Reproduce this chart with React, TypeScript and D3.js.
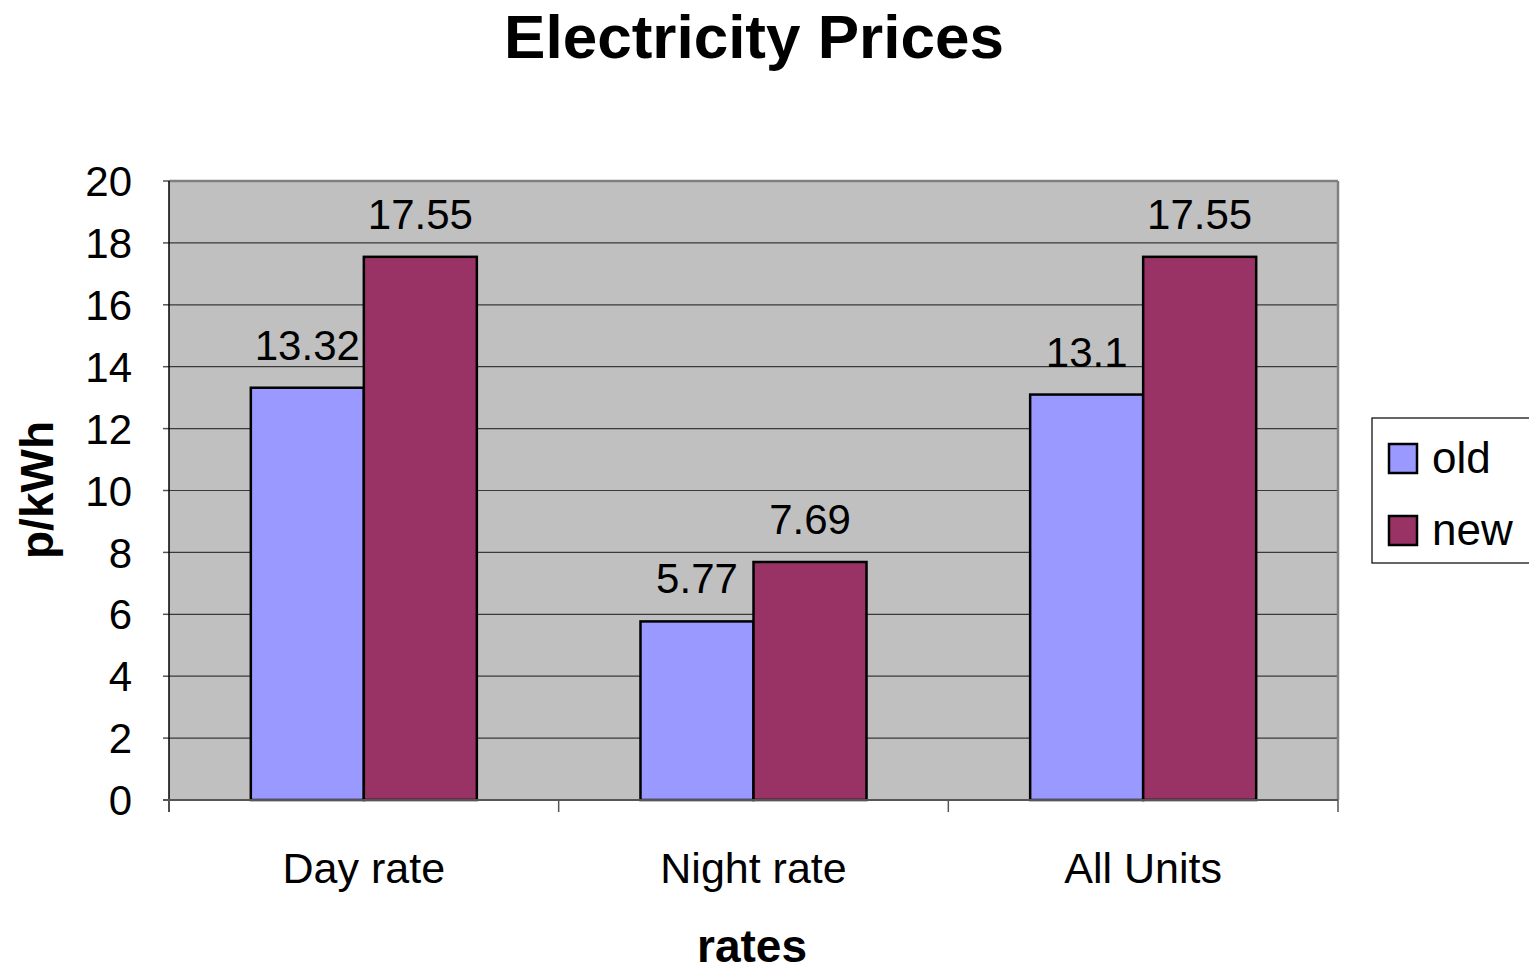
import React from "react";
import * as d3 from "d3";

const categories = ["Day rate", "Night rate", "All Units"];
const seriesNames = ["old", "new"];
const oldValues = [13.32, 5.77, 13.1];
const newValues = [17.55, 7.69, 17.55];
const yTicks = [0, 2, 4, 6, 8, 10, 12, 14, 16, 18, 20];
const colors = ["#9999FF", "#993366"];

const W = 1529;
const H = 964;
const FONT = "'Liberation Sans', Arial, sans-serif";

export default function App() {
  const left = 169, right = 1338, top = 181, bottom = 800;
  const x = d3.scaleBand<string>().domain(categories).range([left, right]).padding(0);
  const xs = d3.scaleBand<string>().domain(seriesNames).range([0, x.bandwidth()]).paddingInner(0).paddingOuter(0.724);
  const y = d3.scaleLinear().domain([0, 20]).range([bottom, top]);
  const values = [oldValues, newValues];
  const boundaries = [...categories.map((c) => x(c) as number), right];

  return (
    <svg width={W} height={H} style={{ position: "absolute", left: 0, top: 0 }} fontFamily={FONT}>
      <rect x={0} y={0} width={W} height={H} fill="#fff" />
      <text x={754} y={58} textAnchor="middle" fontSize={62} fontWeight="bold">Electricity Prices</text>
      <rect x={left} y={top} width={right - left} height={bottom - top} fill="#C0C0C0" />
      {yTicks.slice(1, -1).map((t) => (
        <line key={t} x1={left} x2={right} y1={y(t)} y2={y(t)} stroke="#3a3a3a" strokeWidth={1.2} />
      ))}
      <line x1={left} x2={right} y1={top} y2={top} stroke="#808080" strokeWidth={2.5} />
      <line x1={right} x2={right} y1={top} y2={bottom} stroke="#808080" strokeWidth={2.5} />
      {yTicks.map((t) => (
        <g key={"t" + t}>
          <line x1={163} x2={left} y1={y(t)} y2={y(t)} stroke="#555" strokeWidth={1.5} />
          <text x={132} y={y(t)} dy="0.36em" textAnchor="end" fontSize={42}>{t}</text>
        </g>
      ))}
      {values.map((vals, si) =>
        categories.map((c, ci) => {
          const bx = (x(c) as number) + (xs(seriesNames[si]) as number);
          const by = y(vals[ci]);
          return (
            <g key={si + "-" + ci}>
              <rect x={bx} y={by} width={xs.bandwidth()} height={bottom - by} fill={colors[si]} stroke="#000" strokeWidth={2.5} />
              <text x={bx + xs.bandwidth() / 2} y={by - 28} textAnchor="middle" fontSize={42}>{vals[ci]}</text>
            </g>
          );
        })
      )}
      <line x1={left} x2={left} y1={top} y2={812} stroke="#000" strokeWidth={1.5} />
      <line x1={163} x2={right} y1={bottom} y2={bottom} stroke="#555" strokeWidth={2} />
      {boundaries.map((b, i) => (
        <line key={"b" + i} x1={b} x2={b} y1={bottom} y2={812} stroke="#555" strokeWidth={1.5} />
      ))}
      {categories.map((c) => (
        <text key={c} x={(x(c) as number) + x.bandwidth() / 2} y={883} textAnchor="middle" fontSize={43}>{c}</text>
      ))}
      <text x={752} y={962} textAnchor="middle" fontSize={46} fontWeight="bold">rates</text>
      <text transform="translate(53,490) rotate(-90)" textAnchor="middle" fontSize={46} fontWeight="bold">p/kWh</text>
      <rect x={1372} y={418} width={170} height={145} fill="#fff" stroke="#000" strokeWidth={1.2} />
      {seriesNames.map((s, i) => (
        <g key={s}>
          <rect x={1389} y={444 + i * 72} width={28} height={29} fill={colors[i]} stroke="#000" strokeWidth={2.5} />
          <text x={1432} y={473 + i * 72} fontSize={44}>{s}</text>
        </g>
      ))}
    </svg>
  );
}
